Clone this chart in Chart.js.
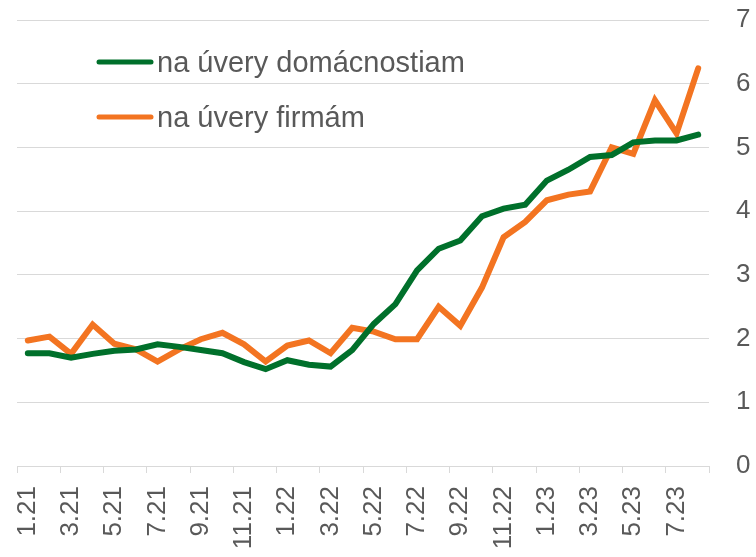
<!DOCTYPE html>
<html lang="sk">
<head>
    <meta charset="UTF-8">
    <title>Úrokové sadzby na úvery</title>
    <script src="https://cdn.jsdelivr.net/npm/chart.js"></script>
    <style>
        html, body { margin: 0; padding: 0; background: #fff; overflow: hidden; }
        canvas { display: block; }
    </style>
</head>
<body>
    <canvas id="graf" width="756" height="557"></canvas>

    <script>
        const mesiace = [
            "1.21", "2.21", "3.21", "4.21", "5.21", "6.21", "7.21", "8.21", "9.21", "10.21", "11.21", "12.21",
            "1.22", "2.22", "3.22", "4.22", "5.22", "6.22", "7.22", "8.22", "9.22", "10.22", "11.22", "12.22",
            "1.23", "2.23", "3.23", "4.23", "5.23", "6.23", "7.23", "8.23"
        ];
        const domacnosti = [
            1.77, 1.77, 1.70, 1.76, 1.81, 1.83, 1.91, 1.87, 1.82, 1.77, 1.63, 1.52,
            1.66, 1.59, 1.56, 1.82, 2.23, 2.54, 3.07, 3.41, 3.54, 3.92, 4.04, 4.10,
            4.48, 4.65, 4.85, 4.88, 5.08, 5.11, 5.11, 5.20
        ];
        const firmy = [
            1.97, 2.03, 1.76, 2.22, 1.92, 1.83, 1.64, 1.83, 1.99, 2.09, 1.91, 1.64,
            1.89, 1.97, 1.77, 2.17, 2.11, 1.99, 1.99, 2.50, 2.20, 2.80, 3.59, 3.83,
            4.17, 4.26, 4.31, 5.00, 4.90, 5.74, 5.22, 6.24
        ];
        const yTicky = [0, 1, 2, 3, 4, 5, 6, 7];

        const sivaText = '#595959';
        const sivaMriezka = '#d9d9d9';

        // legenda vo vnútri grafu (vľavo hore)
        const legendaVnutri = {
            id: 'legendaVnutri',
            afterDraw(chart) {
                const c = chart.ctx;
                c.save();
                c.font = '29px "Liberation Sans", Arial, sans-serif';
                c.fillStyle = sivaText;
                c.textBaseline = 'alphabetic';
                chart.data.datasets.forEach((ds, i) => {
                    const y = 62 + i * 55;
                    c.strokeStyle = ds.borderColor;
                    c.lineWidth = 5;
                    c.lineCap = 'round';
                    c.beginPath();
                    c.moveTo(99, y);
                    c.lineTo(151, y);
                    c.stroke();
                    c.fillText(ds.label, 157, y + 10);
                });
                c.restore();
            }
        };

        new Chart(document.getElementById('graf'), {
            type: 'line',
            data: {
                labels: mesiace,
                datasets: [
                    {
                        label: 'na úvery domácnostiam',
                        data: domacnosti,
                        borderColor: '#00702b',
                        borderWidth: 6,
                        borderCapStyle: 'round',
                        pointRadius: 0,
                        tension: 0
                    },
                    {
                        label: 'na úvery firmám',
                        data: firmy,
                        borderColor: '#f37421',
                        borderWidth: 6,
                        borderCapStyle: 'round',
                        pointRadius: 0,
                        tension: 0
                    }
                ]
            },
            options: {
                responsive: false,
                animation: false,
                layout: { padding: { left: 17, top: 20, right: 0, bottom: 0 } },
                plugins: {
                    legend: { display: false },
                    tooltip: { enabled: false }
                },
                scales: {
                    x: {
                        offset: true,
                        grid: {
                            offset: true,
                            drawOnChartArea: false,
                            drawTicks: true,
                            tickLength: 7,
                            tickColor: ctx => (ctx.index === undefined || ctx.index % 2 === 0) ? sivaMriezka : 'rgba(0,0,0,0)'
                        },
                        border: { color: sivaMriezka, width: 1 },
                        ticks: {
                            autoSkip: false,
                            maxRotation: 90,
                            minRotation: 90,
                            padding: 13,
                            color: sivaText,
                            font: { family: '"Liberation Sans", Arial, sans-serif', size: 26 },
                            callback: function (val, index) {
                                return index % 2 === 0 ? this.getLabelForValue(val) : '';
                            }
                        },
                        afterFit: scale => { scale.height = 91; scale.paddingLeft = 0; scale.paddingRight = 0; }
                    },
                    y: {
                        position: 'right',
                        min: 0,
                        max: 7,
                        afterBuildTicks: scale => { scale.ticks = yTicky.map(v => ({ value: v })); },
                        grid: {
                            color: sivaMriezka,
                            lineWidth: 1,
                            drawTicks: false
                        },
                        border: { display: false },
                        ticks: {
                            padding: 27,
                            color: sivaText,
                            font: { family: '"Liberation Sans", Arial, sans-serif', size: 26 }
                        },
                        afterFit: scale => { scale.width = 47; scale.paddingTop = 0; scale.paddingBottom = 0; }
                    }
                }
            },
            plugins: [legendaVnutri]
        });
    </script>
</body>
</html>
